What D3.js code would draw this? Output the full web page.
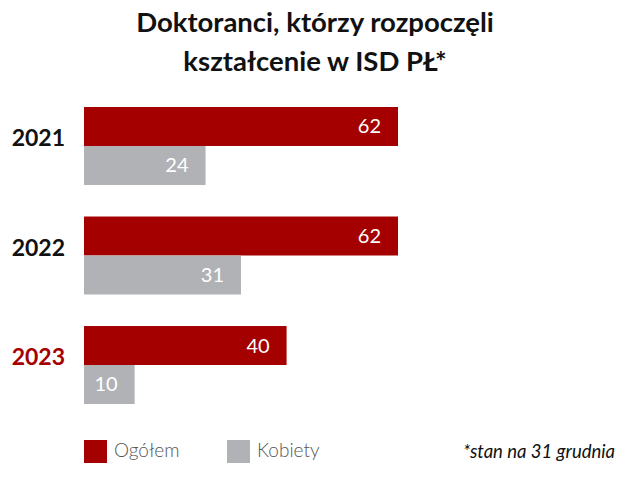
<!DOCTYPE html>
<html>
<head>
<meta charset="utf-8">
<script src="https://cdn.jsdelivr.net/npm/d3@7"></script>
<style>
  body { margin: 0; background: #fff; }
  svg { font-family: Lato, "Open Sans", sans-serif; }
</style>
</head>
<body>
<svg id="chart"></svg>
<script>
const years = ["2021", "2022", "2023"];
const series = ["Ogółem", "Kobiety"];
const ogolem = [62, 62, 40];
const kobiety = [24, 31, 10];
const colors = ["#a50000", "#b1b2b6"];

const width = 617, height = 482;
const svg = d3.select("#chart")
    .attr("width", width)
    .attr("height", height);

const rows = years.map((y, i) => ({year: y, values: [ogolem[i], kobiety[i]]}));

const y0 = d3.scaleBand()
    .domain(years)
    .range([107, 404])
    .paddingInner(0.288);
const y1 = d3.scaleBand()
    .domain(series)
    .range([0, y0.bandwidth()]);
const x = d3.scaleLinear()
    .domain([0, 62])
    .range([84, 398]);

// title
svg.append("text")
    .attr("x", 315).attr("y", 32)
    .attr("text-anchor", "middle")
    .style("font-size", "27.5px").style("font-weight", "bold").style("fill", "#111")
    .text("Doktoranci, którzy rozpoczęli");
svg.append("text")
    .attr("x", 315).attr("y", 71)
    .attr("text-anchor", "middle")
    .style("font-size", "27.5px").style("font-weight", "bold").style("fill", "#111")
    .text("kształcenie w ISD PŁ*");

const group = svg.selectAll("g.year")
    .data(rows)
    .enter().append("g")
    .attr("class", "year")
    .attr("transform", d => `translate(0, ${y0(d.year)})`);

group.append("text")
    .attr("x", 65)
    .attr("y", 39)
    .attr("text-anchor", "end")
    .style("font-size", "23px").style("font-weight", "bold")
    .style("fill", d => d.year === "2023" ? "#a50000" : "#111")
    .text(d => d.year);

const bars = group.selectAll("g.bar")
    .data(d => d.values.map((v, i) => ({key: series[i], value: v, idx: i})))
    .enter().append("g")
    .attr("class", "bar");

bars.append("rect")
    .attr("x", x(0))
    .attr("y", d => y1(d.key))
    .attr("width", d => x(d.value) - x(0))
    .attr("height", y1.bandwidth())
    .attr("fill", d => colors[d.idx]);

bars.append("text")
    .attr("x", d => x(d.value) - 17)
    .attr("y", d => y1(d.key) + y1.bandwidth() / 2 + 7)
    .attr("text-anchor", "end")
    .style("font-size", "20px").style("fill", "#fff")
    .text(d => d.value);

// legend
const legendX = [84, 227];
const legend = svg.selectAll("g.legend")
    .data(series)
    .enter().append("g")
    .attr("class", "legend")
    .attr("transform", (d, i) => `translate(${legendX[i]}, 440)`);
legend.append("rect")
    .attr("width", 23).attr("height", 23)
    .attr("fill", (d, i) => colors[i]);
legend.append("text")
    .attr("x", 30).attr("y", 17)
    .style("font-size", "19px").style("font-weight", 300).style("fill", "#555")
    .text(d => d);

svg.append("text")
    .attr("x", 615).attr("y", 458)
    .attr("text-anchor", "end")
    .style("font-size", "18.5px").style("font-style", "italic").style("fill", "#111")
    .text("*stan na 31 grudnia");
</script>
</body>
</html>
